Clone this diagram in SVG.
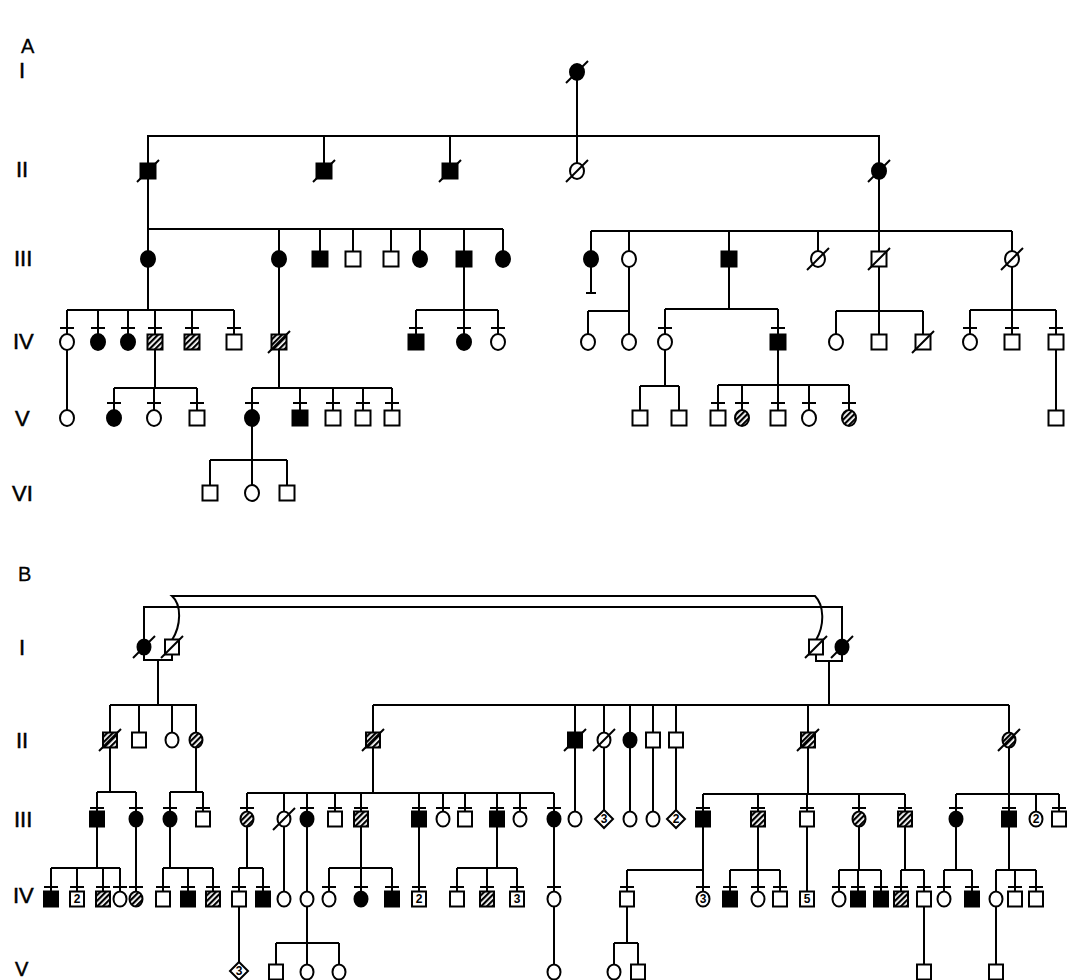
<svg xmlns="http://www.w3.org/2000/svg" xmlns:xlink="http://www.w3.org/1999/xlink" width="1075" height="980" viewBox="0 0 1075 980">
<style>
.c{stroke:#000;stroke-width:2;fill:none}
.o{fill:#fff;stroke:#000;stroke-width:2}
.f{fill:#000;stroke:#000;stroke-width:2}
.h{fill:url(#hatch);stroke:#000;stroke-width:2}
.s{stroke:#000;stroke-width:2;fill:none}
.lbl{font-family:"Liberation Sans",Arial,sans-serif;font-size:22px;fill:#000;stroke:#000;stroke-width:0.5}
.ttl{font-family:"Liberation Sans",Arial,sans-serif;font-size:20px;fill:#000;stroke:#000;stroke-width:0.3}
.n{font-family:"Liberation Sans",Arial,sans-serif;font-size:12px;font-weight:bold;text-anchor:middle;fill:#000}
</style>
<defs>
<pattern id="hatch" patternUnits="userSpaceOnUse" width="4" height="4" patternTransform="rotate(45)"><rect width="4" height="4" fill="#fff"/><rect width="2.2" height="4" fill="#000"/></pattern>
<rect id="qa" x="-7.5" y="-7.5" width="15" height="15"/>
<ellipse id="ca" rx="7" ry="8"/>
<rect id="qb" x="-7" y="-7.5" width="14" height="15"/>
<ellipse id="cb" rx="6.5" ry="7.5"/>
<line id="sl" x1="-11" y1="11" x2="11" y2="-11"/>
<path id="dm" d="M0 -9 L9 0 L0 9 L-9 0Z"/>
</defs>
<rect width="1075" height="980" fill="#fff"/>
<g id="labels">
<text class="ttl" x="21" y="53">A</text>
<text class="lbl" x="19" y="78">I</text>
<text class="lbl" x="16" y="177">II</text>
<text class="lbl" x="14" y="266">III</text>
<text class="lbl" x="13" y="349">IV</text>
<text class="lbl" x="15" y="426">V</text>
<text class="lbl" x="12" y="501">VI</text>
<text class="ttl" x="18" y="581">B</text>
<text class="lbl" x="19" y="655">I</text>
<text class="lbl" x="16" y="748">II</text>
<text class="lbl" x="14" y="827">III</text>
<text class="lbl" x="13" y="903">IV</text>
<text class="lbl" x="15" y="976" style="font-size:20px">V</text>
</g>
<g id="connectors" class="c">
<path d="M577 72V171M148 171V136H879V171M324 136V171M450 136V171"/>
<path d="M148 171V259M148 229H503M279 229V259M320 229V259M353 229V259M391 229V259M420 229V259M464 229V259M503 229V259"/>
<path d="M879 171V231M591 231H1012M591 231V259M629 231V259M729 231V259M818 231V259M879 231V259M1012 231V259M591 259V293M586 293H596"/>
<path d="M148 259V310M67 310H234M67 310V342M98 310V342M128 310V342M155 310V342M192 310V342M234 310V342M60 328H74M91 328H105M121 328H135M148 328H162M185 328H199M227 328H241"/>
<path d="M279 259V342"/>
<path d="M464 259V310M416 310H498M416 310V342M464 310V342M498 310V342M409 328H423M457 328H471M491 328H505"/>
<path d="M629 259V342M588 311H629M588 311V342"/>
<path d="M729 259V309M665 309H778M665 309V342M778 309V342M658 328H672M771 328H785"/>
<path d="M879 259V342M836 311H923M836 311V342M923 311V342"/>
<path d="M1012 259V342M970 310H1056M970 310V342M1056 310V342M963 328H977M1005 328H1019M1049 328H1063"/>
<path d="M67 342V418"/>
<path d="M155 342V388M114 388H197M114 388V418M154 388V418M197 388V418M107 403H121M147 403H161M190 403H204"/>
<path d="M279 342V388M252 388H392M252 388V418M300 388V418M333 388V418M363 388V418M392 388V418M245 403H259M293 403H307M326 403H340M356 403H370M385 403H399"/>
<path d="M665 342V386M640 386H679M640 386V418M679 386V418"/>
<path d="M778 342V385M718 385H849M718 385V418M742 385V418M778 385V418M809 385V418M849 385V418M711 403H725M735 403H749M771 403H785M802 403H816M842 403H856"/>
<path d="M1056 342V418"/>
<path d="M252 418V460M210 460H287M210 460V493M287 460V493M252 460V493"/>
<path d="M144 647V607H842V647"/>
<path d="M172 640C181 626 182 605 172 596H815C824 605 825 625 816 640"/>
<path d="M144 647V660H172V647M158 660V705M110 705H197M110 705V740M139 705V740M172 705V740M196 705V740"/>
<path d="M816 647V661H842V647M829 661V705M373 705H1009M373 705V740M575 705V740M604 705V740M630 705V740M653 705V740M676 705V740M808 705V740M1009 705V740"/>
<path d="M110 740V792M97 792H136M97 792V819M136 792V819M90 808H104M129 808H143"/>
<path d="M196 740V792M170 792H203M170 792V819M203 792V819M163 808H177M196 808H210"/>
<path d="M373 740V793M247 793H554M247 793V819M284 793V819M307 793V819M335 793V819M361 793V819M419 793V819M443 793V819M465 793V819M497 793V819M520 793V819M554 793V819M240 808H254M300 808H314M328 808H342M354 808H368M412 808H426M436 808H450M458 808H472M490 808H504M513 808H527M547 808H561"/>
<path d="M575 740V819M604 740V819M630 740V819M653 740V819M676 740V819"/>
<path d="M808 740V794M703 794H905M703 794V819M758 794V819M807 794V819M859 794V819M905 794V819M696 808H710M751 808H765M800 808H814M852 808H866M898 808H912"/>
<path d="M1009 740V794M956 794H1059M956 794V819M1009 794V819M1036 794V819M1059 794V819M949 808H963M1002 808H1016M1052 808H1066"/>
<path d="M97 819V868M51 868H120M51 868V899M77 868V899M103 868V899M120 868V899M44 887H58M70 887H84M96 887H110M113 887H127"/>
<path d="M136 819V899M129 887H143"/>
<path d="M170 819V868M163 868H213M163 868V899M188 868V899M213 868V899M156 887H170M181 887H195M206 887H220"/>
<path d="M247 819V868M239 868H263M239 868V899M263 868V899M232 887H246M256 887H270"/>
<path d="M284 819V899M307 819V899"/>
<path d="M361 819V868M329 868H392M329 868V899M361 868V899M392 868V899M322 887H336M354 887H368M385 887H399"/>
<path d="M419 819V899M412 887H426"/>
<path d="M497 819V868M457 868H517M457 868V899M487 868V899M517 868V899M450 887H464M480 887H494M510 887H524"/>
<path d="M554 819V899M547 887H561"/>
<path d="M703 819V899M627 870H703M627 870V899M620 887H634M696 887H710"/>
<path d="M758 819V870M730 870H780M730 870V899M758 870V899M780 870V899M723 887H737M751 887H765M773 887H787"/>
<path d="M807 819V899"/>
<path d="M859 819V870M839 870H881M839 870V899M858 870V899M881 870V899M832 887H846M851 887H865M874 887H888"/>
<path d="M905 819V870M901 870H924M901 870V899M924 870V899M894 887H908M917 887H931"/>
<path d="M956 819V870M944 870H972M944 870V899M972 870V899M937 887H951M965 887H979"/>
<path d="M1009 819V870M996 870H1036M996 870V899M1015 870V899M1036 870V899M1008 887H1022M1029 887H1043"/>
<path d="M239 899V972"/>
<path d="M307 899V943M276 943H339M276 943V972M307 943V972M339 943V972"/>
<path d="M554 899V972"/>
<path d="M627 899V943M614 943H638M614 943V972M638 943V972"/>
<path d="M924 899V972M996 899V972"/>
</g>
<g id="A-I-1"><use href="#ca" class="f" x="577" y="72"/><use href="#sl" class="s" x="577" y="72"/></g>
<g id="A-II-1"><use href="#qa" class="f" x="148" y="171"/><use href="#sl" class="s" x="148" y="171"/></g>
<g id="A-II-2"><use href="#qa" class="f" x="324" y="171"/><use href="#sl" class="s" x="324" y="171"/></g>
<g id="A-II-3"><use href="#qa" class="f" x="450" y="171"/><use href="#sl" class="s" x="450" y="171"/></g>
<g id="A-II-4"><use href="#ca" class="o" x="577" y="171"/><use href="#sl" class="s" x="577" y="171"/></g>
<g id="A-II-5"><use href="#ca" class="f" x="879" y="171"/><use href="#sl" class="s" x="879" y="171"/></g>
<g id="A-III-1"><use href="#ca" class="f" x="148" y="259"/></g>
<g id="A-III-2"><use href="#ca" class="f" x="279" y="259"/></g>
<g id="A-III-3"><use href="#qa" class="f" x="320" y="259"/></g>
<g id="A-III-4"><use href="#qa" class="o" x="353" y="259"/></g>
<g id="A-III-5"><use href="#qa" class="o" x="391" y="259"/></g>
<g id="A-III-6"><use href="#ca" class="f" x="420" y="259"/></g>
<g id="A-III-7"><use href="#qa" class="f" x="464" y="259"/></g>
<g id="A-III-8"><use href="#ca" class="f" x="503" y="259"/></g>
<g id="A-III-9"><use href="#ca" class="f" x="591" y="259"/></g>
<g id="A-III-10"><use href="#ca" class="o" x="629" y="259"/></g>
<g id="A-III-11"><use href="#qa" class="f" x="729" y="259"/></g>
<g id="A-III-12"><use href="#ca" class="o" x="818" y="259"/><use href="#sl" class="s" x="818" y="259"/></g>
<g id="A-III-13"><use href="#qa" class="o" x="879" y="259"/><use href="#sl" class="s" x="879" y="259"/></g>
<g id="A-III-14"><use href="#ca" class="o" x="1012" y="259"/><use href="#sl" class="s" x="1012" y="259"/></g>
<g id="A-IV-1"><use href="#ca" class="o" x="67" y="342"/></g>
<g id="A-IV-2"><use href="#ca" class="f" x="98" y="342"/></g>
<g id="A-IV-3"><use href="#ca" class="f" x="128" y="342"/></g>
<g id="A-IV-4"><use href="#qa" class="h" x="155" y="342"/></g>
<g id="A-IV-5"><use href="#qa" class="h" x="192" y="342"/></g>
<g id="A-IV-6"><use href="#qa" class="o" x="234" y="342"/></g>
<g id="A-IV-7"><use href="#qa" class="h" x="279" y="342"/><use href="#sl" class="s" x="279" y="342"/></g>
<g id="A-IV-8"><use href="#qa" class="f" x="416" y="342"/></g>
<g id="A-IV-9"><use href="#ca" class="f" x="464" y="342"/></g>
<g id="A-IV-10"><use href="#ca" class="o" x="498" y="342"/></g>
<g id="A-IV-11"><use href="#ca" class="o" x="588" y="342"/></g>
<g id="A-IV-12"><use href="#ca" class="o" x="629" y="342"/></g>
<g id="A-IV-13"><use href="#ca" class="o" x="665" y="342"/></g>
<g id="A-IV-14"><use href="#qa" class="f" x="778" y="342"/></g>
<g id="A-IV-15"><use href="#ca" class="o" x="836" y="342"/></g>
<g id="A-IV-16"><use href="#qa" class="o" x="879" y="342"/></g>
<g id="A-IV-17"><use href="#qa" class="o" x="923" y="342"/><use href="#sl" class="s" x="923" y="342"/></g>
<g id="A-IV-18"><use href="#ca" class="o" x="970" y="342"/></g>
<g id="A-IV-19"><use href="#qa" class="o" x="1012" y="342"/></g>
<g id="A-IV-20"><use href="#qa" class="o" x="1056" y="342"/></g>
<g id="A-V-1"><use href="#ca" class="o" x="67" y="418"/></g>
<g id="A-V-2"><use href="#ca" class="f" x="114" y="418"/></g>
<g id="A-V-3"><use href="#ca" class="o" x="154" y="418"/></g>
<g id="A-V-4"><use href="#qa" class="o" x="197" y="418"/></g>
<g id="A-V-5"><use href="#ca" class="f" x="252" y="418"/></g>
<g id="A-V-6"><use href="#qa" class="f" x="300" y="418"/></g>
<g id="A-V-7"><use href="#qa" class="o" x="333" y="418"/></g>
<g id="A-V-8"><use href="#qa" class="o" x="363" y="418"/></g>
<g id="A-V-9"><use href="#qa" class="o" x="392" y="418"/></g>
<g id="A-V-10"><use href="#qa" class="o" x="640" y="418"/></g>
<g id="A-V-11"><use href="#qa" class="o" x="679" y="418"/></g>
<g id="A-V-12"><use href="#qa" class="o" x="718" y="418"/></g>
<g id="A-V-13"><use href="#ca" class="h" x="742" y="418"/></g>
<g id="A-V-14"><use href="#qa" class="o" x="778" y="418"/></g>
<g id="A-V-15"><use href="#ca" class="o" x="809" y="418"/></g>
<g id="A-V-16"><use href="#ca" class="h" x="849" y="418"/></g>
<g id="A-V-17"><use href="#qa" class="o" x="1056" y="418"/></g>
<g id="A-VI-1"><use href="#qa" class="o" x="210" y="493"/></g>
<g id="A-VI-2"><use href="#ca" class="o" x="252" y="493"/></g>
<g id="A-VI-3"><use href="#qa" class="o" x="287" y="493"/></g>
<g id="B-I-1"><use href="#cb" class="f" x="144" y="647"/><use href="#sl" class="s" x="144" y="647"/></g>
<g id="B-I-2"><use href="#qb" class="o" x="172" y="647"/><use href="#sl" class="s" x="172" y="647"/></g>
<g id="B-I-3"><use href="#qb" class="o" x="816" y="647"/><use href="#sl" class="s" x="816" y="647"/></g>
<g id="B-I-4"><use href="#cb" class="f" x="842" y="647"/><use href="#sl" class="s" x="842" y="647"/></g>
<g id="B-II-1"><use href="#qb" class="h" x="110" y="740"/><use href="#sl" class="s" x="110" y="740"/></g>
<g id="B-II-2"><use href="#qb" class="o" x="139" y="740"/></g>
<g id="B-II-3"><use href="#cb" class="o" x="172" y="740"/></g>
<g id="B-II-4"><use href="#cb" class="h" x="196" y="740"/></g>
<g id="B-II-5"><use href="#qb" class="h" x="373" y="740"/><use href="#sl" class="s" x="373" y="740"/></g>
<g id="B-II-6"><use href="#qb" class="f" x="575" y="740"/><use href="#sl" class="s" x="575" y="740"/></g>
<g id="B-II-7"><use href="#cb" class="o" x="604" y="740"/><use href="#sl" class="s" x="604" y="740"/></g>
<g id="B-II-8"><use href="#cb" class="f" x="630" y="740"/></g>
<g id="B-II-9"><use href="#qb" class="o" x="653" y="740"/></g>
<g id="B-II-10"><use href="#qb" class="o" x="676" y="740"/></g>
<g id="B-II-11"><use href="#qb" class="h" x="808" y="740"/><use href="#sl" class="s" x="808" y="740"/></g>
<g id="B-II-12"><use href="#cb" class="h" x="1009" y="740"/><use href="#sl" class="s" x="1009" y="740"/></g>
<g id="B-III-1"><use href="#qb" class="f" x="97" y="819"/></g>
<g id="B-III-2"><use href="#cb" class="f" x="136" y="819"/></g>
<g id="B-III-3"><use href="#cb" class="f" x="170" y="819"/></g>
<g id="B-III-4"><use href="#qb" class="o" x="203" y="819"/></g>
<g id="B-III-5"><use href="#cb" class="h" x="247" y="819"/></g>
<g id="B-III-6"><use href="#cb" class="o" x="284" y="819"/><use href="#sl" class="s" x="284" y="819"/></g>
<g id="B-III-7"><use href="#cb" class="f" x="307" y="819"/></g>
<g id="B-III-8"><use href="#qb" class="o" x="335" y="819"/></g>
<g id="B-III-9"><use href="#qb" class="h" x="361" y="819"/></g>
<g id="B-III-10"><use href="#qb" class="f" x="419" y="819"/></g>
<g id="B-III-11"><use href="#cb" class="o" x="443" y="819"/></g>
<g id="B-III-12"><use href="#qb" class="o" x="465" y="819"/></g>
<g id="B-III-13"><use href="#qb" class="f" x="497" y="819"/></g>
<g id="B-III-14"><use href="#cb" class="o" x="520" y="819"/></g>
<g id="B-III-15"><use href="#cb" class="f" x="554" y="819"/></g>
<g id="B-III-16"><use href="#cb" class="o" x="575" y="819"/></g>
<g id="B-III-17"><use href="#dm" class="o" x="604" y="819"/><text class="n" x="604" y="823">3</text></g>
<g id="B-III-18"><use href="#cb" class="o" x="630" y="819"/></g>
<g id="B-III-19"><use href="#cb" class="o" x="653" y="819"/></g>
<g id="B-III-20"><use href="#dm" class="o" x="676" y="819"/><text class="n" x="676" y="823">2</text></g>
<g id="B-III-21"><use href="#qb" class="f" x="703" y="819"/></g>
<g id="B-III-22"><use href="#qb" class="h" x="758" y="819"/></g>
<g id="B-III-23"><use href="#qb" class="o" x="807" y="819"/></g>
<g id="B-III-24"><use href="#cb" class="h" x="859" y="819"/></g>
<g id="B-III-25"><use href="#qb" class="h" x="905" y="819"/></g>
<g id="B-III-26"><use href="#cb" class="f" x="956" y="819"/></g>
<g id="B-III-27"><use href="#qb" class="f" x="1009" y="819"/></g>
<g id="B-III-28"><use href="#cb" class="o" x="1036" y="819"/><text class="n" x="1036" y="823">2</text></g>
<g id="B-III-29"><use href="#qb" class="o" x="1059" y="819"/></g>
<g id="B-IV-1"><use href="#qb" class="f" x="51" y="899"/></g>
<g id="B-IV-2"><use href="#qb" class="o" x="77" y="899"/><text class="n" x="77" y="903">2</text></g>
<g id="B-IV-3"><use href="#qb" class="h" x="103" y="899"/></g>
<g id="B-IV-4"><use href="#cb" class="o" x="120" y="899"/></g>
<g id="B-IV-5"><use href="#cb" class="h" x="136" y="899"/></g>
<g id="B-IV-6"><use href="#qb" class="o" x="163" y="899"/></g>
<g id="B-IV-7"><use href="#qb" class="f" x="188" y="899"/></g>
<g id="B-IV-8"><use href="#qb" class="h" x="213" y="899"/></g>
<g id="B-IV-9"><use href="#qb" class="o" x="239" y="899"/></g>
<g id="B-IV-10"><use href="#qb" class="f" x="263" y="899"/></g>
<g id="B-IV-11"><use href="#cb" class="o" x="284" y="899"/></g>
<g id="B-IV-12"><use href="#cb" class="o" x="307" y="899"/></g>
<g id="B-IV-13"><use href="#cb" class="o" x="329" y="899"/></g>
<g id="B-IV-14"><use href="#cb" class="f" x="361" y="899"/></g>
<g id="B-IV-15"><use href="#qb" class="f" x="392" y="899"/></g>
<g id="B-IV-16"><use href="#qb" class="o" x="419" y="899"/><text class="n" x="419" y="903">2</text></g>
<g id="B-IV-17"><use href="#qb" class="o" x="457" y="899"/></g>
<g id="B-IV-18"><use href="#qb" class="h" x="487" y="899"/></g>
<g id="B-IV-19"><use href="#qb" class="o" x="517" y="899"/><text class="n" x="517" y="903">3</text></g>
<g id="B-IV-20"><use href="#cb" class="o" x="554" y="899"/></g>
<g id="B-IV-21"><use href="#qb" class="o" x="627" y="899"/></g>
<g id="B-IV-22"><use href="#cb" class="o" x="703" y="899"/><text class="n" x="703" y="903">3</text></g>
<g id="B-IV-23"><use href="#qb" class="f" x="730" y="899"/></g>
<g id="B-IV-24"><use href="#cb" class="o" x="758" y="899"/></g>
<g id="B-IV-25"><use href="#qb" class="o" x="780" y="899"/></g>
<g id="B-IV-26"><use href="#qb" class="o" x="807" y="899"/><text class="n" x="807" y="903">5</text></g>
<g id="B-IV-27"><use href="#cb" class="o" x="839" y="899"/></g>
<g id="B-IV-28"><use href="#qb" class="f" x="858" y="899"/></g>
<g id="B-IV-29"><use href="#qb" class="f" x="881" y="899"/></g>
<g id="B-IV-30"><use href="#qb" class="h" x="901" y="899"/></g>
<g id="B-IV-31"><use href="#qb" class="o" x="924" y="899"/></g>
<g id="B-IV-32"><use href="#cb" class="o" x="944" y="899"/></g>
<g id="B-IV-33"><use href="#qb" class="f" x="972" y="899"/></g>
<g id="B-IV-34"><use href="#cb" class="o" x="996" y="899"/></g>
<g id="B-IV-35"><use href="#qb" class="o" x="1015" y="899"/></g>
<g id="B-IV-36"><use href="#qb" class="o" x="1036" y="899"/></g>
<g id="B-V-1"><use href="#dm" class="o" x="239" y="971"/><text class="n" x="239" y="975">3</text></g>
<g id="B-V-2"><use href="#qb" class="o" x="276" y="972"/></g>
<g id="B-V-3"><use href="#cb" class="o" x="307" y="972"/></g>
<g id="B-V-4"><use href="#cb" class="o" x="339" y="972"/></g>
<g id="B-V-5"><use href="#cb" class="o" x="554" y="972"/></g>
<g id="B-V-6"><use href="#cb" class="o" x="614" y="972"/></g>
<g id="B-V-7"><use href="#qb" class="o" x="638" y="972"/></g>
<g id="B-V-8"><use href="#qb" class="o" x="924" y="972"/></g>
<g id="B-V-9"><use href="#qb" class="o" x="996" y="972"/></g>
</svg>
